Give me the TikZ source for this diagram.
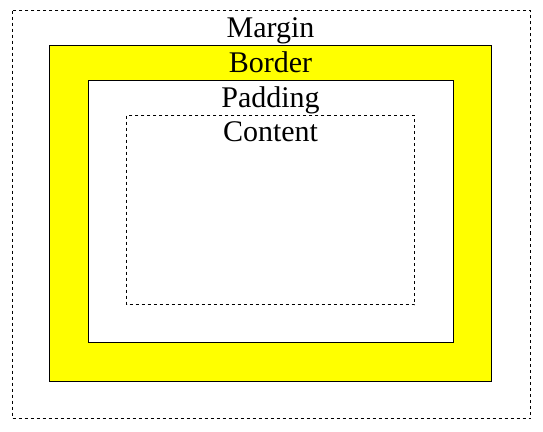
\documentclass[tikz,border=0pt]{standalone}
\usepackage{fontspec}
\setmainfont{Liberation Serif}
\usetikzlibrary{positioning}
\definecolor{borderfill}{RGB}{255,255,0}

\begin{document}
\begin{tikzpicture}[x=1bp,y=-1bp,line join=miter]
    \pgfsetlinewidth{1bp}
  \tikzset{boxlabel/.style={anchor=base,inner sep=0pt,font=\fontsize{30bp}{36bp}\selectfont},
           dashbox/.style={draw=black,dash pattern=on 3bp off 3bp}}
  \useasboundingbox (0,0) rectangle (543,431);
  %%
    % Box: margin
    \draw [dashbox] (12.5,10.5) rectangle (530.5,418.5);
    % Box: border
    \draw [fill=borderfill,draw=black] (49.5,45.5) rectangle (491.5,381.5);
    % Box: padding
    \draw [fill=white,draw=black] (88.5,80.5) rectangle (453.5,342.5);
    % Box: content
    \draw [dashbox] (126.5,115.5) rectangle (414.5,304.5);
    % Labels
    \node [boxlabel] (margin) at (270.5,37.7) {Margin};
    \node [boxlabel] (border) at (270.5,72.7) {Border};
    \node [boxlabel] (padding) at (270.5,107.7) {Padding};
    \node [boxlabel] (content) at (270.5,141.7) {Content};
  %
\end{tikzpicture}
\end{document}
